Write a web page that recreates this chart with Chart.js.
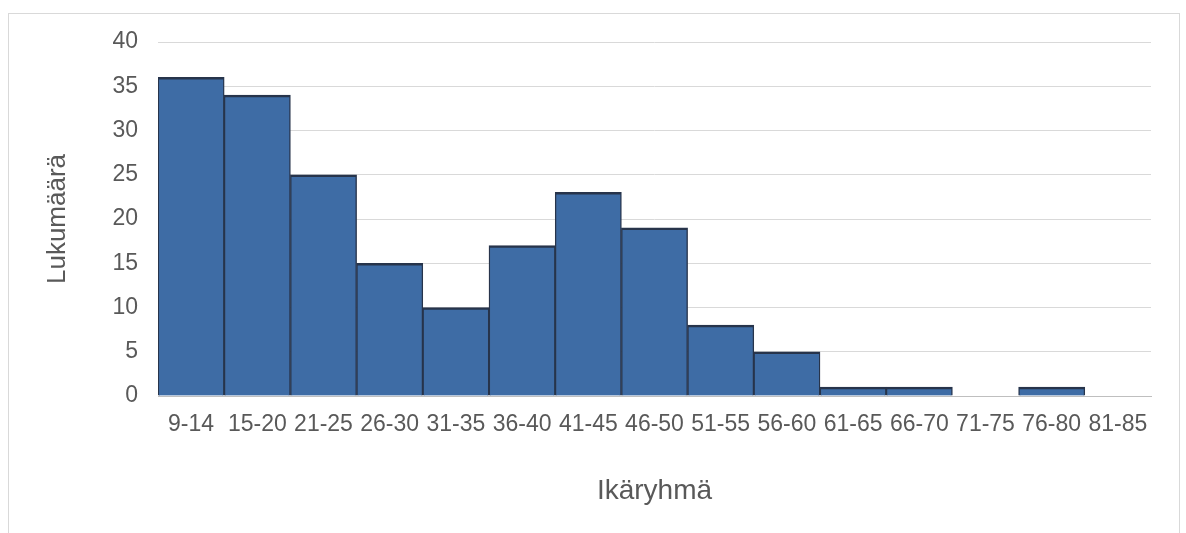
<!DOCTYPE html>
<html>
<head>
<meta charset="utf-8">
<script src="https://cdn.jsdelivr.net/npm/chart.js@4/dist/chart.umd.min.js"></script>
<style>
  html, body { margin: 0; padding: 0; background: #ffffff; }
  #wrap { position: relative; width: 1186px; height: 533px; overflow: hidden; }
  #frame { position: absolute; left: 8px; top: 13px; width: 1172px; height: 560px;
           border: 1px solid #d9d9d9; box-sizing: border-box; pointer-events: none; }
  canvas { position: absolute; left: 0; top: 0; }
</style>
</head>
<body>
<div id="wrap">
  <canvas id="chart" width="1186" height="533"></canvas>
  <div id="frame"></div>
</div>
<script>
// Age groups and their counts
const ageGroups = ['9-14', '15-20', '21-25', '26-30', '31-35', '36-40', '41-45', '46-50',
                   '51-55', '56-60', '61-65', '66-70', '71-75', '76-80', '81-85'];
const counts = [36, 34, 25, 15, 10, 17, 23, 19, 8, 5, 1, 1, 0, 1, 0];
const yTicks = [0, 5, 10, 15, 20, 25, 30, 35, 40];

const xTitle = 'Ikäryhmä';
const yTitle = 'Lukumäärä';

const FONT = "'Liberation Sans', Arial, sans-serif";
const NARROW = "'Liberation Sans Narrow', 'Arial Narrow', 'Liberation Sans', Arial, sans-serif";
const TEXT = '#595959';

new Chart(document.getElementById('chart'), {
  type: 'bar',
  data: {
    labels: ageGroups,
    datasets: [{
      data: counts,
      backgroundColor: '#3e6ca5',
      borderColor: '#27344b',
      borderWidth: { top: 2.5, left: 1.4, right: 1.4, bottom: 0 },
      barPercentage: 1.0,
      categoryPercentage: 1.0
    }]
  },
  options: {
    responsive: false,
    animation: false,
    layout: { padding: { left: 0, right: 35, top: 42, bottom: 0 } },
    plugins: { legend: { display: false }, tooltip: { enabled: false } },
    scales: {
      x: {
        grid: { display: false, drawTicks: false },
        border: { display: true, color: '#bfbfbf', width: 1 },
        ticks: { color: TEXT, font: { family: NARROW, size: 23 }, padding: 15, maxRotation: 0, autoSkip: false },
        title: { display: true, text: xTitle, color: TEXT, font: { family: FONT, size: 28 }, padding: { top: 0, bottom: 25 } },
        afterFit: (s) => { s.height = 137; }
      },
      y: {
        min: 0, max: 40,
        afterBuildTicks: (s) => { s.ticks = yTicks.map(v => ({ value: v })); },
        grid: { color: '#d9d9d9', lineWidth: 1, drawTicks: false },
        border: { display: false },
        ticks: { color: TEXT, font: { family: FONT, size: 23 }, padding: 20 },
        title: { display: true, text: yTitle, color: TEXT, font: { family: FONT, size: 26 }, padding: { top: 42, bottom: 0 } },
        afterFit: (s) => { s.width = 158; }
      }
    }
  }
});
</script>
</body>
</html>
